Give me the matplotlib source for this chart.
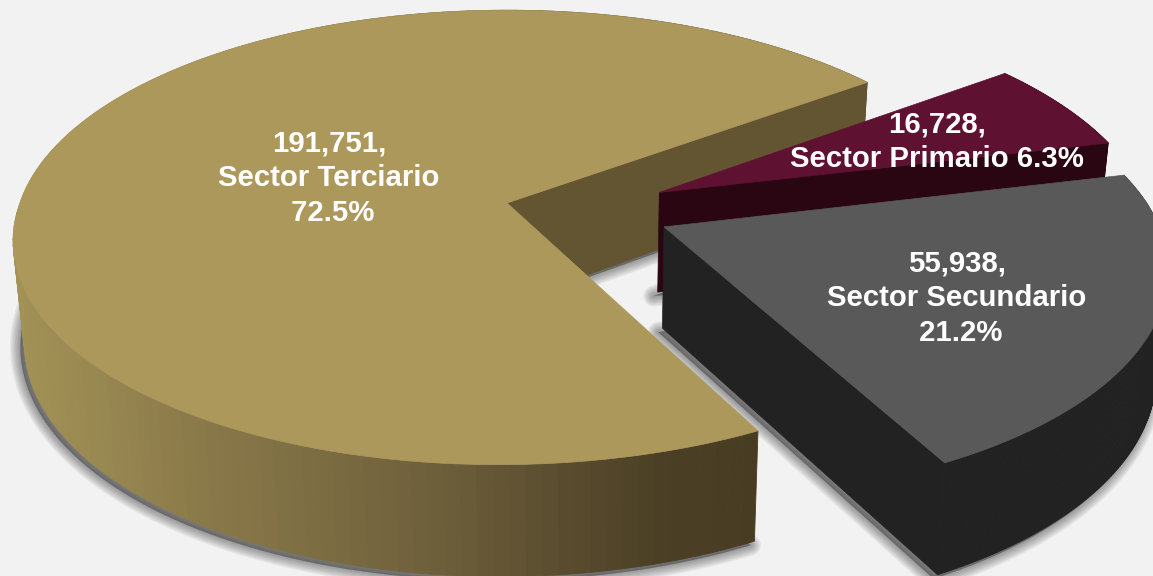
import numpy as np
import matplotlib
matplotlib.use("Agg")
import matplotlib.pyplot as plt
from matplotlib.patches import Polygon

# data
sectors = ["Sector Terciario", "Sector Secundario", "Sector Primario"]
values = [191751, 55938, 16728]
percents = ["72.5%", "21.2%", "6.3%"]

# styles
top_colors = ["#ad985c", "#595959", "#5e1130"]
wall_colors = ["#635531", "#222222", "#2a0612"]
explode = [(0.0, 0.0), (0.319, -0.106), (0.315, 0.048)]
start_angle = 36.3
bg = "#f2f2f2"

plt.rcParams["font.family"] = ["Liberation Sans", "DejaVu Sans"]

# projection of the tilted disc to pixels
cx, cy = 507.0, 203.0
ax_x, ax_y = 487.0, 222.0
persp = 0.1516
shear = 7.5


def project(x, y):
    s = 1.0 / (1.0 + persp * y)
    # the near half leans a little to the left
    return np.column_stack((cx + ax_x * x * s + shear * np.minimum(y, 0) * s, cy - ax_y * y * s))


def drop(pts):
    # top face -> bottom face of the slab
    out = pts.copy().astype(float)
    out[:, 0] = pts[:, 0] - (pts[:, 0] - 580) * 0.02
    out[:, 1] = pts[:, 1] + 100 + (pts[:, 1] - 200) * 0.045
    return out


def arc_points(a0, a1, off, n=160):
    t = np.radians(np.linspace(a0, a1, n))
    return project(off[0] + np.cos(t), off[1] + np.sin(t))


def side_color(x):
    # darker to the right on the large slice
    xs = [14, 190, 420, 650, 760]
    rs = [0xa3, 0x8a, 0x6f, 0x4b, 0x48]
    gs = [0x92, 0x7a, 0x60, 0x3f, 0x3c]
    bs = [0x56, 0x4a, 0x3c, 0x25, 0x23]
    return (np.interp(x, xs, rs) / 255, np.interp(x, xs, gs) / 255, np.interp(x, xs, bs) / 255)


fig = plt.figure(figsize=(11.53, 5.76), dpi=100, facecolor=bg)
ax = fig.add_axes([0, 0, 1, 1])
ax.set_xlim(0, 1153)
ax.set_ylim(576, 0)
ax.axis("off")

total = sum(values)
sweeps = [v / total * 360 for v in values]
starts = start_angle + np.concatenate(([0], np.cumsum(sweeps)[:-1]))

slices = []
for st, sw, off in zip(starts, sweeps, explode):
    apex = project(np.array([off[0]]), np.array([off[1]]))
    arc = arc_points(st, st + sw, off)
    slices.append((apex, arc))

# soft shadows under the slices
for apex, arc in slices:
    base = drop(np.vstack((apex, arc)))
    base = base + np.array([-4, 4])
    for lw in [15, 13, 11, 9, 7, 5, 3, 1]:
        ax.add_patch(Polygon(base, closed=True, facecolor="#303030", edgecolor="#303030",
                             alpha=0.07, lw=lw, joinstyle="round", zorder=1))


def draw_quads(top, color_fn, z):
    low = drop(top)
    for i in range(len(top) - 1):
        c = color_fn(top[i, 0])
        ax.add_patch(Polygon([top[i], top[i + 1], low[i + 1], low[i]], closed=True,
                             facecolor=c, edgecolor=c, lw=0.6, zorder=z))


# big slice, then primary, then secondary on top
for idx, z in [(0, 2), (2, 5), (1, 8)]:
    apex, arc = slices[idx]
    if idx == 0:
        outer = side_color
    else:
        outer = lambda x, c=wall_colors[idx]: c
    cut = np.vstack((apex, arc[0:1]))
    draw_quads(arc, outer, z)
    low = drop(cut)
    ax.add_patch(Polygon([cut[0], cut[1], low[1], low[0]], closed=True,
                         facecolor=wall_colors[idx], edgecolor=wall_colors[idx], lw=0.5, zorder=z))
    ax.add_patch(Polygon(np.vstack((apex, arc)), closed=True, facecolor=top_colors[idx],
                         edgecolor=top_colors[idx], lw=0.5, zorder=z + 1))

# labels
label_pos = [(329, 178), (957, 298), (937, 142)]
for i, (name, val, pct, pos) in enumerate(zip(sectors, values, percents, label_pos)):
    if i == 2:
        txt = f"{val:,},\n{name} {pct}"
    else:
        txt = f"{val:,},\n{name}\n {pct}"
    ax.text(pos[0], pos[1], txt, color="white", fontsize=21.2, fontweight="bold",
            ha="center", va="center", linespacing=1.31, zorder=20)

fig.savefig("out.png", dpi=100, facecolor=bg)
